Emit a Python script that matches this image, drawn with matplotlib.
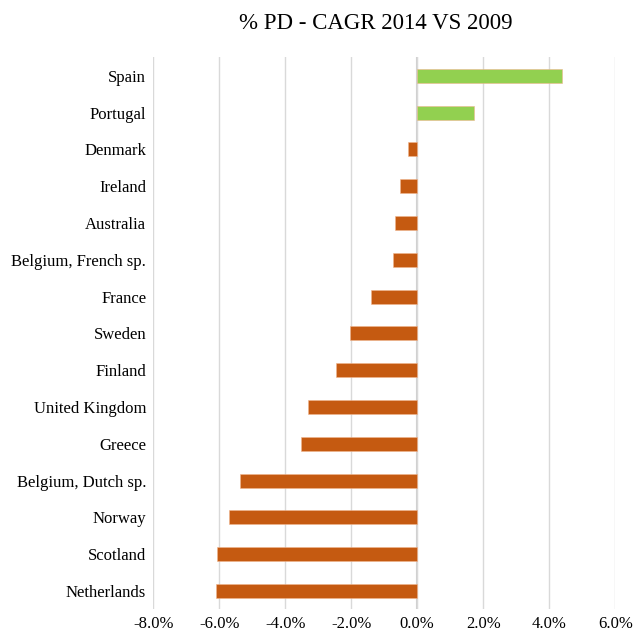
import matplotlib.pyplot as plt
from matplotlib.ticker import FuncFormatter

paesi = ["Spain", "Portugal", "Denmark", "Ireland", "Australia",
         "Belgium, French sp.", "France", "Sweden", "Finland",
         "United Kingdom", "Greece", "Belgium, Dutch sp.", "Norway",
         "Scotland", "Netherlands"]
cagr = [4.39, 1.73, -0.27, -0.53, -0.66, -0.72, -1.40, -2.03, -2.45,
        -3.32, -3.52, -5.38, -5.71, -6.08, -6.09]
xticks = [-8, -6, -4, -2, 0, 2, 4, 6]

plt.rcParams['font.family'] = ['Liberation Serif', 'DejaVu Serif']

fig = plt.figure(figsize=(6.33, 6.34), dpi=100)
ax = fig.add_axes([0.242, 0.0388, 0.730, 0.8707])

colori = ['#92d050' if v > 0 else '#c55a11' for v in cagr]
pos = list(range(len(paesi)))
ax.barh(pos, cagr, height=0.38, color=colori, edgecolor='#f0b58f',
        linewidth=0.4, zorder=3)

ax.set_ylim(len(paesi) - 0.5, -0.5)
ax.set_yticks(pos)
ax.set_yticklabels(paesi, fontsize=12)
ax.set_xlim(-8, 6)
ax.set_xticks(xticks)
ax.xaxis.set_major_formatter(FuncFormatter(lambda v, p: f"{v:.1f}%"))
ax.tick_params(axis='x', labelsize=12, length=0, pad=5)
ax.tick_params(axis='y', length=0, pad=5)

ax.grid(axis='x', color='#d9d9d9', linewidth=1, zorder=0)
ax.axvline(0, color='#d0d0d0', linewidth=1.5, zorder=1)
for s in ax.spines.values():
    s.set_visible(False)

fig.text(0.594, 0.963, "% PD - CAGR 2014 VS 2009", ha='center', va='center',
         fontsize=16.5)

plt.savefig("out.png")
